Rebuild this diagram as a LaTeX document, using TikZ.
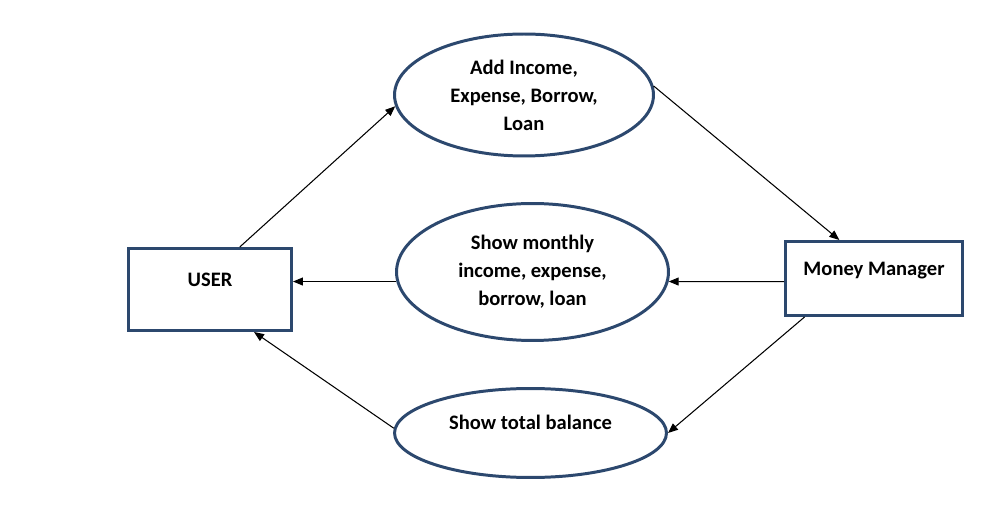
\documentclass[tikz,border=0pt]{standalone}
\usepackage{fontspec}
\setmainfont{Carlito}
\usepackage{xcolor}
\usepackage{tikz}
\usetikzlibrary{shapes.geometric, arrows.meta}
\definecolor{outlineblue}{RGB}{44,72,110}
\tikzset{
  actorbox/.style={
    draw=outlineblue, line width=1.7pt, rectangle, align=center,
    font=\fontsize{11.7}{15.9}\selectfont\bfseries,
    text height=0.3cm, text depth=0.4cm, inner sep=0pt
  },
  processoval/.style={
    draw=outlineblue, line width=1.7pt, ellipse, align=center,
    font=\fontsize{11.7}{15.9}\selectfont\bfseries, inner sep=0pt
  },
  flowarrow/.style={
    -{Triangle[length=2mm, width=1.6mm]}, line width=0.6pt, black
  },
}

\begin{document}
\begin{tikzpicture}[x=0.02cm, y=-0.02cm]
  \useasboundingbox (0,0) rectangle (1003,519);

  % === Actors ===
  \node[actorbox, minimum width=3.26cm, minimum height=1.64cm] (user) at (210, 289.5) {USER};
  \node[actorbox, minimum width=3.54cm, minimum height=1.48cm] (manager) at (874, 278.5) {Money Manager};

  % === Processes ===
  \node[processoval, minimum width=5.18cm, minimum height=2.44cm] (add_entry) at (524, 95)
    {Add Income,\\ Expense, Borrow,\\ Loan};
  \node[processoval, minimum width=5.44cm, minimum height=2.74cm] (show_monthly) at (532.5, 272)
    {Show monthly\\ income, expense,\\ borrow, loan};
  \node[processoval, minimum width=5.44cm, minimum height=1.78cm,
        text height=0.3cm, text depth=0.42cm] (show_balance) at (530.5, 433)
    {Show total balance};

  % === Flows ===
  \draw[flowarrow] (user.55) -- (add_entry.185);
  \draw[flowarrow] (add_entry.4.4) -- (manager.132);
  \draw[flowarrow] (manager.182.9) -- (show_monthly.-4.6);
  \draw[flowarrow] (show_monthly.184.6) -- (show_monthly.184.6 -| user.east);
  \draw[flowarrow] (manager.209.5) -- (show_balance.0.8);
  \draw[flowarrow] (show_balance.178.7) -- (user.-44);

\end{tikzpicture}
\end{document}
